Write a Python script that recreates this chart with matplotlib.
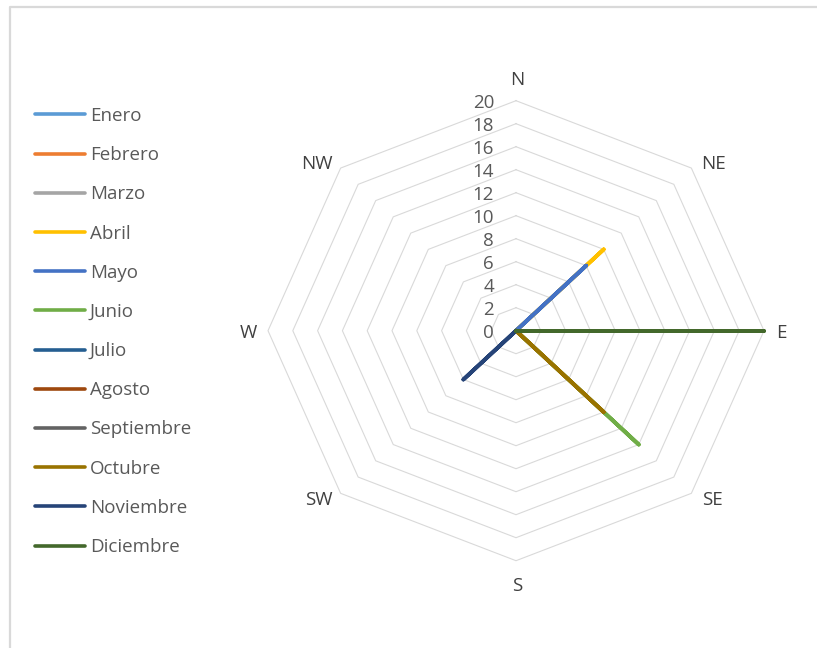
import numpy as np
import matplotlib
matplotlib.use("Agg")
import matplotlib.pyplot as plt
from matplotlib.lines import Line2D

plt.rcParams['font.family'] = ['Open Sans', 'DejaVu Sans']

# Wind directions (clockwise from north) and radial ticks
directions = ['N', 'NE', 'E', 'SE', 'S', 'SW', 'W', 'NW']
ticks = [0, 2, 4, 6, 8, 10, 12, 14, 16, 18, 20]

# Monthly values per direction
months = ['Enero', 'Febrero', 'Marzo', 'Abril', 'Mayo', 'Junio', 'Julio',
          'Agosto', 'Septiembre', 'Octubre', 'Noviembre', 'Diciembre']
enero      = [0, 0, 0, 0, 0, 0, 0, 0]
febrero    = [0, 0, 0, 0, 0, 0, 0, 0]
marzo      = [0, 0, 0, 0, 0, 0, 0, 0]
abril      = [0, 10, 0, 0, 0, 0, 0, 0]
mayo       = [0, 8, 0, 0, 0, 0, 0, 0]
junio      = [0, 0, 0, 14, 0, 0, 0, 0]
julio      = [0, 0, 0, 0, 0, 0, 0, 0]
agosto     = [0, 0, 0, 0, 0, 0, 0, 0]
septiembre = [0, 0, 0, 0, 0, 0, 0, 0]
octubre    = [0, 0, 0, 10, 0, 0, 0, 0]
noviembre  = [0, 0, 0, 0, 0, 6, 0, 0]
diciembre  = [0, 0, 20, 0, 0, 0, 0, 0]
series = [enero, febrero, marzo, abril, mayo, junio, julio,
          agosto, septiembre, octubre, noviembre, diciembre]

colors = ['#5B9BD5', '#ED7D31', '#A5A5A5', '#FFC000', '#4472C4', '#70AD47',
          '#255E91', '#9E480E', '#636363', '#997300', '#264478', '#43682B']

W, H = 817, 648
FS = 13.5
fig = plt.figure(figsize=(W / 100, H / 100), dpi=100)
fig.patch.set_facecolor('white')

# Radar area (slightly wider than tall)
cx, cy, rx, ry = 516, 330.7, 248, 230
ax = fig.add_axes([(cx - rx) / W, (H - cy - ry) / H, 2 * rx / W, 2 * ry / H])
rmax = ticks[-1]
ax.set_xlim(-rmax, rmax)
ax.set_ylim(-rmax, rmax)
ax.axis('off')

theta = np.arange(len(directions)) * 2 * np.pi / len(directions)
sx, sy = np.sin(theta), np.cos(theta)

# Octagonal gridlines
for r in ticks[1:]:
    ax.plot(np.append(r * sx, r * sx[0]), np.append(r * sy, r * sy[0]),
            color='#D9D9D9', lw=0.8, zorder=1, clip_on=False)

# Series
handles = []
for name, vals, col in zip(months, series, colors):
    v = np.asarray(vals, dtype=float)
    xs = np.append(v * sx, v[0] * sx[0])
    ys = np.append(v * sy, v[0] * sy[0])
    ln, = ax.plot(xs, ys, color=col, lw=2.8, solid_capstyle='round',
                  solid_joinstyle='round', zorder=3, clip_on=False, label=name)
    handles.append(ln)

# Radial tick labels along the north spoke
for t in ticks:
    ax.annotate(str(t), xy=(0, t), xytext=(-22, 0), textcoords='offset pixels',
                ha='right', va='center_baseline', fontsize=FS, color='#595959')

# Direction labels
label_offsets = {'N': (1, 23), 'NE': (22, 6), 'E': (17, 0), 'SE': (21, -5),
                 'S': (1, -23), 'SW': (-22, -5), 'W': (-20, 0), 'NW': (-24, 6)}
for d, x0, y0 in zip(directions, rmax * sx, rmax * sy):
    ax.annotate(d, xy=(x0, y0), xytext=label_offsets[d], textcoords='offset pixels',
                ha='center', va='center_baseline', fontsize=FS, color='#404040')

# Legend
leg = fig.legend(handles=handles, loc='upper left',
                 bbox_to_anchor=(35 / W, 1 - 107 / H), frameon=False,
                 fontsize=FS, handlelength=2.67, handletextpad=0.25,
                 labelspacing=1.13, borderpad=0, borderaxespad=0)
for txt in leg.get_texts():
    txt.set_color('#595959')
for lh in leg.get_lines():
    lh.set_linewidth(2.6)

# Chart area border (top and left edges)
fig.add_artist(Line2D([10 / W, 10 / W, 1], [0, 1 - 6.5 / H, 1 - 6.5 / H],
                      transform=fig.transFigure, color='#D9D9D9', lw=1.6))

fig.savefig('out.png', dpi=100, facecolor='white')
